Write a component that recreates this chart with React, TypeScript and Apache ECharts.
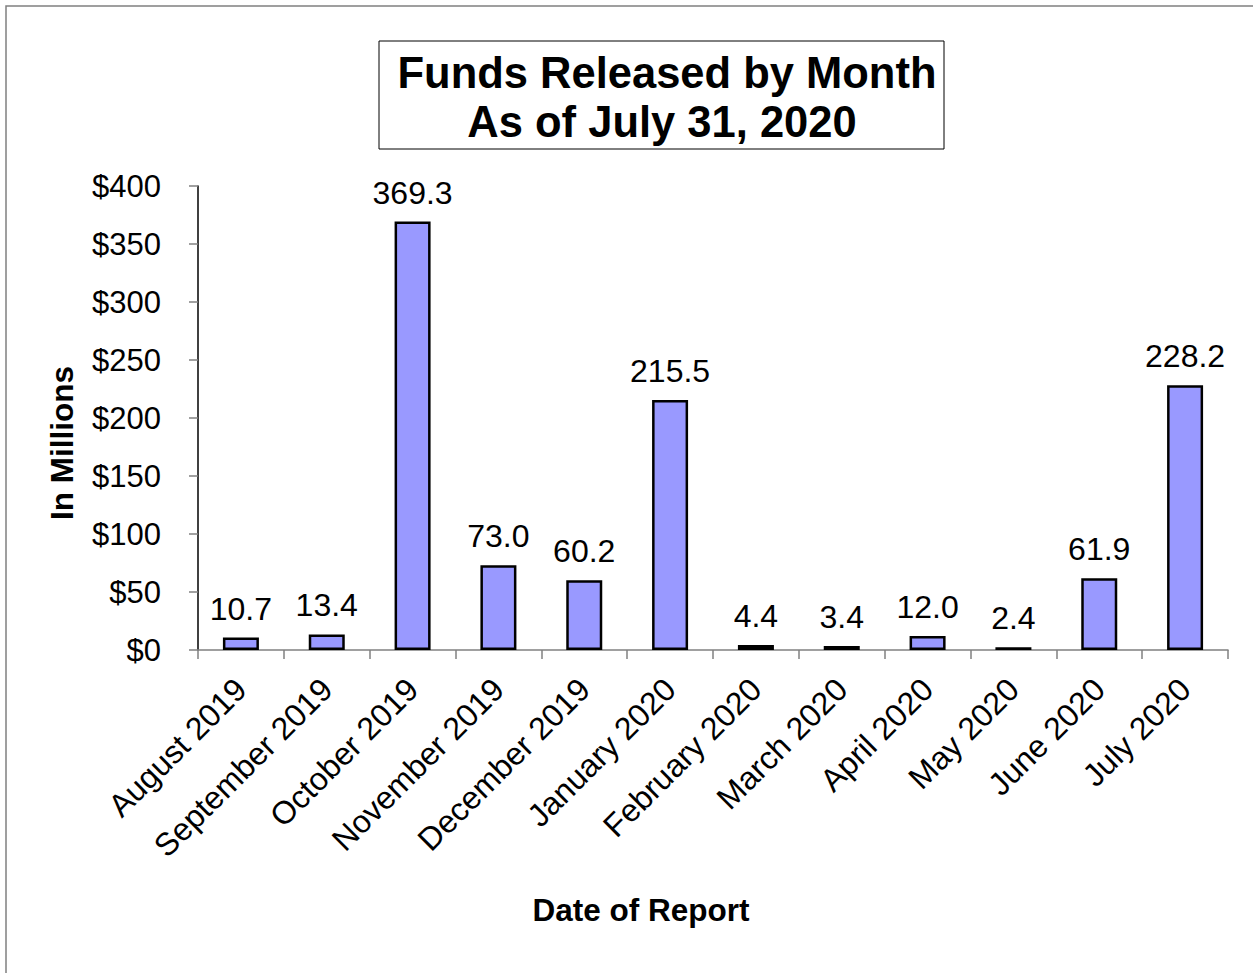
import React, { useEffect, useRef } from "react";
import * as echarts from "echarts";

const categories = [
  "August 2019",
  "September 2019",
  "October 2019",
  "November 2019",
  "December 2019",
  "January 2020",
  "February 2020",
  "March 2020",
  "April 2020",
  "May 2020",
  "June 2020",
  "July 2020",
];
const fundsReleased = [10.7, 13.4, 369.3, 73.0, 60.2, 215.5, 4.4, 3.4, 12.0, 2.4, 61.9, 228.2];
const yMin = 0;
const yMax = 400;
const yInterval = 50;
const titleLines = ["Funds Released by Month", "As of July 31, 2020"];
const yAxisName = "In Millions";
const xAxisName = "Date of Report";

const FONT = '"Liberation Sans", Arial, Helvetica, sans-serif';

export default function App() {
  const ref = useRef<HTMLDivElement>(null);
  useEffect(() => {
    if (!ref.current) return;
    const chart = echarts.init(ref.current, null, { renderer: "svg" });
    chart.setOption({
      animation: false,
      backgroundColor: "#ffffff",
      grid: { left: 198, right: 25, top: 186, bottom: 323, containLabel: false },
      xAxis: {
        type: "category",
        data: categories,
        axisLine: { show: true, lineStyle: { color: "#808080", width: 1.5 } },
        axisTick: { show: true, alignWithLabel: false, length: 9, lineStyle: { color: "#808080", width: 1.5 } },
        axisLabel: {
          interval: 0,
          rotate: 45,
          margin: 34,
          color: "#000",
          fontFamily: FONT,
          fontSize: 32,
        },
      },
      yAxis: {
        type: "value",
        min: yMin,
        max: yMax,
        interval: yInterval,
        splitLine: { show: false },
        axisLine: { show: true, lineStyle: { color: "#000", width: 1.5 } },
        axisTick: { show: true, length: 9, lineStyle: { color: "#808080", width: 1.5 } },
        axisLabel: {
          margin: 37,
          color: "#000",
          fontFamily: FONT,
          fontSize: 31,
          formatter: (v: number) => "$" + v,
        },
      },
      series: [
        {
          type: "bar",
          data: fundsReleased,
          barWidth: 36,
          itemStyle: { color: "#9999FF", borderColor: "#000", borderWidth: 2.5 },
          label: {
            show: true,
            position: "top",
            distance: 13,
            color: "#000",
            fontFamily: FONT,
            fontSize: 32,
            formatter: (p: any) => Number(p.value).toFixed(1),
          },
        },
      ],
      graphic: [
        {
          type: "rect",
          shape: { x: 6, y: 6, width: 1300, height: 1000 },
          style: { fill: "none", stroke: "#808080", lineWidth: 1.5 },
          silent: true,
        },
        {
          type: "rect",
          shape: { x: 379, y: 41, width: 565, height: 108 },
          style: { fill: "#fff", stroke: "#000", lineWidth: 1 },
          silent: true,
        },
        {
          type: "text",
          x: 667,
          y: 73,
          style: {
            text: titleLines[0],
            fontFamily: FONT,
            fontSize: 43.5,
            fontWeight: "bold",
            fill: "#000",
            align: "center",
            verticalAlign: "middle",
          },
        },
        {
          type: "text",
          x: 662,
          y: 122,
          style: {
            text: titleLines[1],
            fontFamily: FONT,
            fontSize: 43.5,
            fontWeight: "bold",
            fill: "#000",
            align: "center",
            verticalAlign: "middle",
          },
        },
        {
          type: "text",
          x: 62,
          y: 443,
          rotation: Math.PI / 2,
          style: {
            text: yAxisName,
            fontFamily: FONT,
            fontSize: 31.5,
            fontWeight: "bold",
            fill: "#000",
            align: "center",
            verticalAlign: "middle",
          },
        },
        {
          type: "text",
          x: 641,
          y: 910,
          style: {
            text: xAxisName,
            fontFamily: FONT,
            fontSize: 31.5,
            fontWeight: "bold",
            fill: "#000",
            align: "center",
            verticalAlign: "middle",
          },
        },
      ],
    });
    return () => chart.dispose();
  }, []);
  return (
    <div
      ref={ref}
      style={{ position: "fixed", left: 0, top: 0, width: 1253, height: 973 }}
    />
  );
}
